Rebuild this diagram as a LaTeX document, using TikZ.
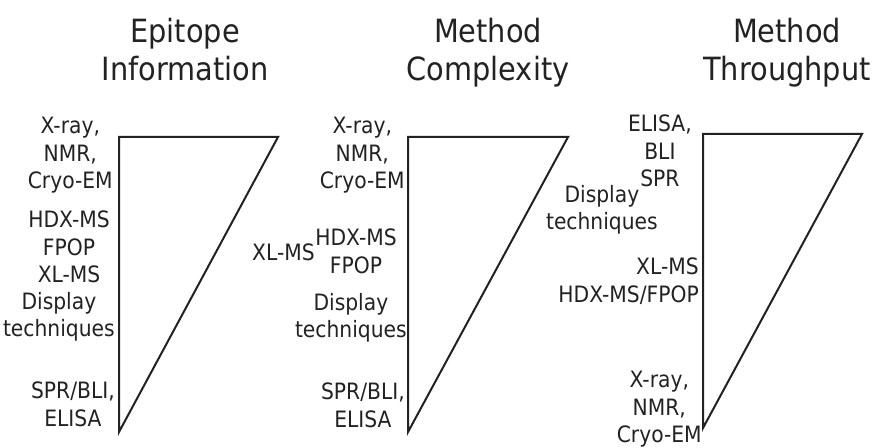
\documentclass[tikz,border=0pt]{standalone}
\usepackage{fontspec}
\setmainfont{DejaVu Sans}[FakeStretch=0.9]
\definecolor{ink}{HTML}{222222}
\begin{document}
\begin{tikzpicture}[x=0.75pt,y=-0.75pt,
  heading/.style={font=\fontsize{24}{28.5}\selectfont, align=center, inner sep=0pt, text=ink, anchor=north},
  lbl/.style={font=\fontsize{16.9}{20.6}\selectfont, align=center, inner sep=0pt, text=ink, anchor=north east},
  wedge/.style={draw=ink, line width=1.5pt, line join=miter}]
\useasboundingbox[fill=white] (0,0) rectangle (877,448);

% column headings
\node[heading] (h1) at (185,18) {Epitope\\Information};
\node[heading] (h2) at (488,18) {Method\\Complexity};
\node[heading] (h3) at (787,18) {Method\\Throughput};

% wedges: wide edge = high value
\coordinate (a1) at (119,137); \coordinate (b1) at (278,137); \coordinate (c1) at (119,432);
\coordinate (a2) at (408,137); \coordinate (b2) at (568,137); \coordinate (c2) at (408,432);
\coordinate (a3) at (703,134); \coordinate (b3) at (862,134); \coordinate (c3) at (703,428);
\draw[wedge] (a1) -- (b1) -- (c1) -- cycle;
\draw[wedge] (a2) -- (b2) -- (c2) -- cycle;
\draw[wedge] (a3) -- (b3) -- (c3) -- cycle;

% epitope information
\node[lbl] (e1) at (113,117) {X-ray,\\NMR,\\Cryo-EM};
\node[lbl] (e2) at (110,211) {HDX-MS\\FPOP\\XL-MS};
\node[lbl] (e3) at (115,292) {Display\\techniques};
\node[lbl] (e4) at (115,382) {SPR/BLI,\\ELISA};

% method complexity
\node[lbl] (m1) at (405,117) {X-ray,\\NMR,\\Cryo-EM};
\node[lbl] (m2) at (397,229) {HDX-MS\\FPOP};
\node[lbl] (m3) at (315,244) {XL-MS};
\node[lbl] (m4) at (407,293) {Display\\techniques};
\node[lbl] (m5) at (405,383) {SPR/BLI,\\ELISA};

% method throughput
\node[lbl] (t1) at (692,115) {ELISA,\\BLI\\SPR};
\node[lbl] (t2) at (658,185) {Display\\techniques};
\node[lbl, align=right] (t3) at (699,258) {XL-MS\\HDX-MS/FPOP};
\node[lbl] (t4) at (702,371) {X-ray,\\NMR,\\Cryo-EM};
\end{tikzpicture}
\end{document}
